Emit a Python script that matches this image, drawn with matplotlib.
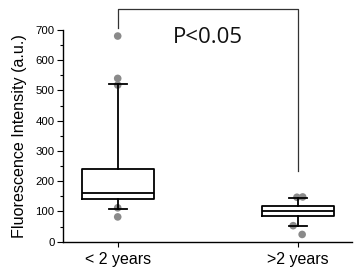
import matplotlib
matplotlib.use("Agg")
import matplotlib.pyplot as plt

# Data
categories = ["< 2 years", ">2 years"]
q1 = [140, 86]
median = [160, 100]
q3 = [239, 117]
whisker_low = [108, 52]
whisker_high = [520, 145]
points_g1 = [680, 540, 518, 112, 82]
offsets_g1 = [0.0, 0.0, 0.0, 0.0, 0.0]
points_g2 = [147, 148, 53, 24]
offsets_g2 = [-0.004, 0.028, -0.025, 0.025]
yticks = [0, 100, 200, 300, 400, 500, 600, 700]
p_text = "P<0.05"
bracket_left_y = 707
bracket_top_y = 770
bracket_right_y = 235

plt.rcParams['font.family'] = ['Liberation Sans', 'DejaVu Sans']

fig = plt.figure(figsize=(3.56, 2.70), dpi=100)
ax = fig.add_axes([63/356, 28.3/270, (352-63)/356, (241.7-30)/270])

positions = [1, 2]
# scatter points (beneath box)
ax.scatter([1 + o for o in offsets_g1], points_g1, s=30, color="#8a8a8a",
           edgecolors="none", zorder=1, clip_on=False)
ax.scatter([2 + o for o in offsets_g2], points_g2, s=30, color="#8a8a8a",
           edgecolors="none", zorder=1, clip_on=False)

stats = []
for i in range(2):
    stats.append(dict(label=categories[i], q1=q1[i], med=median[i], q3=q3[i],
                      whislo=whisker_low[i], whishi=whisker_high[i], fliers=[]))
ax.bxp(stats, positions=positions, widths=0.4, showfliers=False,
       boxprops=dict(color="black", linewidth=1.3),
       medianprops=dict(color="black", linewidth=1.3),
       whiskerprops=dict(color="black", linewidth=1.3),
       capprops=dict(color="black", linewidth=1.3),
       capwidths=0.1, manage_ticks=False, zorder=2)

ax.set_xlim(0.696, 2.302)
ax.set_ylim(0, 700)
ax.set_xticks(positions)
ax.set_xticklabels(categories, fontsize=11.5)
ax.set_yticks(yticks)
ax.set_yticks([50, 150, 250, 350, 450, 550, 650], minor=True)
ax.tick_params(axis='y', which='major', length=4, width=0.8, labelsize=8.2, pad=2)
ax.tick_params(axis='y', which='minor', length=2.5, width=0.8)
ax.tick_params(axis='x', which='major', length=3.5, width=0.8, pad=4)
for s in ["top", "right"]:
    ax.spines[s].set_visible(False)
for s in ["left", "bottom"]:
    ax.spines[s].set_linewidth(1.0)

ax.set_ylabel("Fluorescence Intensity (a.u.)", fontsize=11.6, labelpad=6)

# significance bracket
ax.plot([1, 1, 2, 2], [bracket_left_y, bracket_top_y, bracket_top_y, bracket_right_y],
        color="#333333", linewidth=0.9, clip_on=False)
ax.text(1.5, 675, p_text, fontsize=16, ha="center", va="center",
        family=["Open Sans", "DejaVu Sans"], color="#111111")

fig.savefig("out.png", dpi=100)
